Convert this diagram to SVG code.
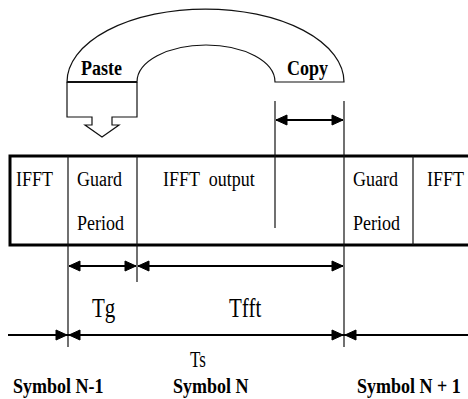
<svg xmlns="http://www.w3.org/2000/svg" xmlns:xlink="http://www.w3.org/1999/xlink" width="468" height="399" viewBox="0 0 468 399">
<style>
.t{font-family:"Liberation Serif","Times New Roman",serif;font-size:18px;fill:#000;white-space:pre}
.b{font-family:"Liberation Serif","Times New Roman",serif;font-size:18px;font-weight:bold;fill:#000;white-space:pre}
.ln{stroke:#111;stroke-width:1.2;fill:none}
.ar{stroke:#000;stroke-width:1.8;fill:none}
.hd{fill:#000;stroke:#000;stroke-width:1}
</style>
<defs>
<path id="hr" d="M0,0 L-11,-5 L-11,5 Z"/>
<path id="hl" d="M0,0 L11,-5 L11,5 Z"/>
</defs>
<rect width="468" height="399" fill="#fff"/>

<g id="arch">
<path d="M67,82 A138.5,73 0 0 1 344,82 L275,82 A69,37 0 0 0 137,82 Z" fill="#fff" stroke="#111" stroke-width="1.2"/>
<line x1="67" y1="82" x2="137" y2="82" stroke="#111" stroke-width="2.2"/>
<text class="b" transform="translate(81,75) scale(1,1.2)">Paste</text>
<text class="b" transform="translate(287,75) scale(1,1.2)">Copy</text>
</g>

<g id="paste-arrow">
<path d="M67,82 L67,117 L92,117 L92,125 L85,125 L102,137 L119,125 L112,125 L112,117 L137,117 L137,82" fill="none" stroke="#111" stroke-width="1.2"/>
</g>

<g id="frame">
<rect x="10" y="156" width="470" height="89" fill="none" stroke="#000" stroke-width="3"/>
</g>

<g id="cell-ifft-left">
<text class="t" transform="translate(16,186) scale(1,1.2)">IFFT</text>
</g>
<g id="cell-guard-left">
<text class="t" transform="translate(77,186) scale(1,1.2)">Guard</text>
<text class="t" transform="translate(77,230) scale(1,1.2)">Period</text>
</g>
<g id="cell-ifft-output">
<text class="t" transform="translate(163,186) scale(1,1.2)">IFFT  output</text>
</g>
<g id="cell-guard-right">
<text class="t" transform="translate(353,186) scale(1,1.2)">Guard</text>
<text class="t" transform="translate(353,230) scale(1,1.2)">Period</text>
</g>
<g id="cell-ifft-right">
<text class="t" transform="translate(427,186) scale(1,1.2)">IFFT</text>
</g>

<g id="labels">
<text class="t" style="font-size:21px" transform="translate(92,317) scale(1,1.25)">Tg</text>
<text class="t" style="font-size:21px" transform="translate(229,317) scale(1,1.25)">Tfft</text>
<text class="t" style="font-size:17px" transform="translate(190,367) scale(1,1.3)">Ts</text>
<text class="b" transform="translate(13,393) scale(1,1.15)">Symbol N-1</text>
<text class="b" transform="translate(173,393) scale(1,1.15)">Symbol N</text>
<text class="b" transform="translate(357,393) scale(1,1.15)">Symbol N + 1</text>
</g>

<g id="connectors">
<line class="ln" x1="68" y1="156" x2="68" y2="347"/>
<line class="ln" x1="137" y1="156" x2="137" y2="282"/>
<line class="ln" x1="275" y1="101" x2="275" y2="228"/>
<line class="ln" x1="344" y1="101" x2="344" y2="347"/>
<line class="ln" x1="413" y1="156" x2="413" y2="245"/>
<line class="ar" x1="276" y1="120" x2="343" y2="120"/>
<line class="ar" x1="69" y1="266" x2="136" y2="266"/>
<line class="ar" x1="138" y1="266" x2="343" y2="266"/>
<line class="ar" x1="8" y1="335" x2="468" y2="335"/>
<use class="hd" xlink:href="#hl" href="#hl" x="276" y="120"/>
<use class="hd" xlink:href="#hr" href="#hr" x="343" y="120"/>
<use class="hd" xlink:href="#hl" href="#hl" x="69" y="266"/>
<use class="hd" xlink:href="#hr" href="#hr" x="136" y="266"/>
<use class="hd" xlink:href="#hl" href="#hl" x="138" y="266"/>
<use class="hd" xlink:href="#hr" href="#hr" x="343" y="266"/>
<use class="hd" xlink:href="#hr" href="#hr" x="67" y="335"/>
<use class="hd" xlink:href="#hl" href="#hl" x="69" y="335"/>
<use class="hd" xlink:href="#hr" href="#hr" x="343" y="335"/>
<use class="hd" xlink:href="#hl" href="#hl" x="345" y="335"/>
</g>
</svg>
